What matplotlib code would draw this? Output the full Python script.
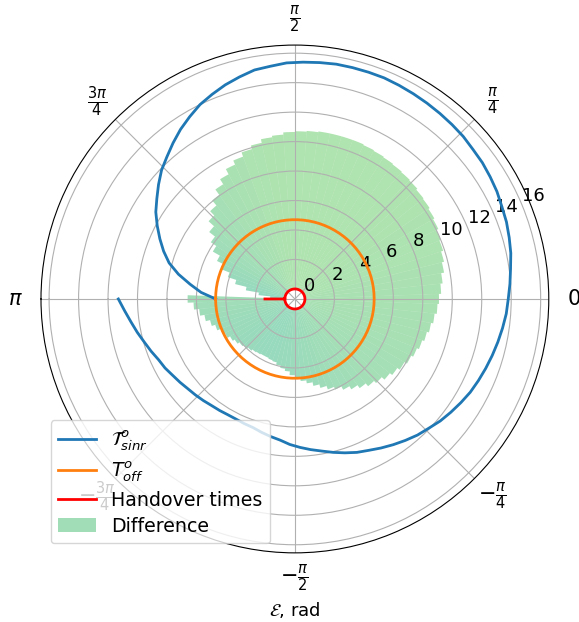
import matplotlib
matplotlib.use('Agg')
import matplotlib.pyplot as plt
from matplotlib.colors import LinearSegmentedColormap, Normalize
import numpy as np

plt.rcParams['font.size'] = 13

# angle of the orbit position (deg), sampled every 4 degrees
angle_deg = list(range(-180, 181, 4))
# SINR-based handover time along the orbit
t_sinr = [11.3, 10.9, 10.55, 10.25, 9.95, 9.7, 9.45, 9.3, 9.1, 8.95,
          8.8, 8.7, 8.6, 8.5, 8.45, 8.4, 8.4, 8.45, 8.5, 8.65,
          8.8, 8.95, 9.2, 9.4, 9.6, 9.8, 10.05, 10.3, 10.55, 10.75,
          11.0, 11.25, 11.5, 11.75, 11.95, 12.2, 12.4, 12.6, 12.8, 12.95,
          13.1, 13.25, 13.4, 13.55, 13.7, 13.8, 13.95, 14.1, 14.3, 14.45,
          14.6, 14.7, 14.85, 14.95, 15.05, 15.1, 15.2, 15.25, 15.3, 15.35,
          15.4, 15.45, 15.5, 15.5, 15.5, 15.5, 15.45, 15.4, 15.35, 15.2,
          15.1, 14.85, 14.6, 14.3, 14.0, 13.6, 13.2, 12.75, 12.3, 11.9,
          11.4, 10.9, 10.45, 9.9, 9.35, 8.8, 8.2, 7.4, 6.5, 5.7,
          4.7]
# offset-based handover time (flat)
t_off = [4.7] * len(angle_deg)
handover_r = [0.0] * len(angle_deg) + [1.35]

theta = np.deg2rad(angle_deg)
diff = np.array(t_sinr) - np.array(t_off)

# teal for small gaps, green for large ones
gap_cmap = LinearSegmentedColormap.from_list('gap', [(0.0, 0.64, 0.49), (0.31, 0.76, 0.31)])
bar_colors = gap_cmap(Normalize(0, diff.max())(diff))

fig = plt.figure(figsize=(5.79, 6.22), dpi=100)
ax = fig.add_axes([0.0708, 0.111, 0.877, 0.8167], projection='polar')

ax.plot(theta, t_sinr, color='tab:blue', lw=2, label=r'$\mathcal{T}^o_{sinr}$')
ax.plot(theta, t_off, color='tab:orange', lw=2, label=r'$T^o_{off}$')
ax.plot(np.append(theta, np.pi), handover_r, color='red', lw=2, label='Handover times')
ax.bar(theta, diff, width=np.deg2rad(4), color=bar_colors, alpha=0.45,
       label='Difference', zorder=0)

ax.set_thetalim(-np.pi, np.pi)
ax.set_xticks(np.arange(-4, 4) * np.pi / 4)
ax.set_xticklabels([r'$\pi$', r'$-\frac{3\pi}{4}$', r'$-\frac{\pi}{2}$', r'$-\frac{\pi}{4}$',
                    '0', r'$\frac{\pi}{4}$', r'$\frac{\pi}{2}$', r'$\frac{3\pi}{4}$'],
                   fontsize=15)
ax.tick_params(axis='x', pad=8)
ax.set_ylim(-0.68, 16.55)
ax.set_yticks(np.arange(0, 17, 2))
ax.set_xlabel(r'$\mathcal{E}$, rad')
ax.legend(loc='lower left', fontsize=13.7, labelspacing=0.35)

plt.savefig('out.png', dpi=100)
